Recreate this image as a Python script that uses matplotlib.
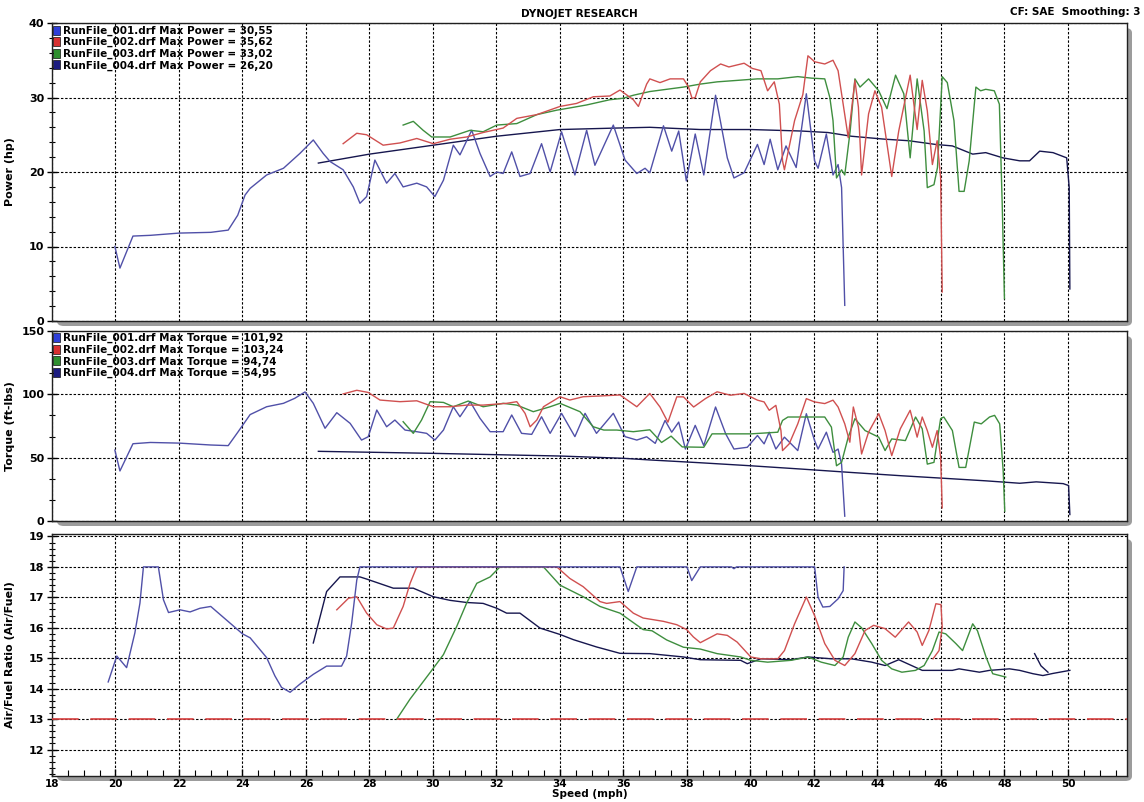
import matplotlib
matplotlib.use('Agg')
from matplotlib import pyplot as plt
from matplotlib.patches import Patch, FancyBboxPatch
from matplotlib.ticker import MultipleLocator
import numpy as np

# ---- data (speed mph -> value) ----
runs = ['RunFile_001.drf', 'RunFile_002.drf', 'RunFile_003.drf', 'RunFile_004.drf']
max_power = ['30,55', '35,62', '33,02', '26,20']
max_torque = ['101,92', '103,24', '94,74', '54,95']

pwr_001_x = [19.98, 20.14, 20.55, 21.1, 22.0, 23.0, 23.55, 23.85, 24.08, 24.24, 24.76, 25.29, 25.81, 26.23,
             26.54, 26.76, 27.17, 27.49, 27.70, 27.91, 28.17, 28.54, 28.80, 29.06, 29.49, 29.80, 30.06, 30.33,
             30.64, 30.85, 31.22, 31.48, 31.80, 32.01, 32.21, 32.48, 32.74, 33.06, 33.42, 33.69, 34.05, 34.47,
             34.84, 35.10, 35.68, 36.05, 36.42, 36.68, 36.83, 37.26, 37.52, 37.74, 37.98, 38.26, 38.53, 38.90,
             39.27, 39.48, 39.80, 40.22, 40.43, 40.62, 40.86, 41.12, 41.44, 41.76, 42.02, 42.13, 42.39, 42.60,
             42.76, 42.87, 42.97]
pwr_001_y = [10.0, 7.1, 11.4, 11.5, 11.8, 11.9, 12.2, 14.2, 16.9, 17.8, 19.6, 20.5, 22.5, 24.3,
             22.5, 21.4, 20.3, 18.0, 15.8, 16.7, 21.6, 18.5, 19.8, 18.0, 18.5, 18.0, 16.7, 18.9,
             23.6, 22.3, 25.6, 22.5, 19.4, 20.0, 19.8, 22.7, 19.4, 19.8, 23.8, 20.0, 25.4, 19.6,
             25.6, 20.9, 26.3, 21.6, 19.8, 20.5, 19.9, 26.2, 22.8, 25.5, 18.8, 25.1, 19.6, 30.3,
             21.9, 19.2, 19.9, 23.7, 21.0, 24.4, 20.3, 23.5, 20.6, 30.5, 21.5, 20.5, 25.1, 19.6,
             21.0, 17.9, 2.1]

pwr_002_x = [27.17, 27.60, 27.91, 28.43, 28.96, 29.49, 30.01, 30.54, 31.06, 31.58, 32.21, 32.64, 33.27, 34.0,
             34.52, 35.05, 35.57, 35.89, 36.31, 36.47, 36.73, 36.83, 37.15, 37.47, 37.89, 38.05, 38.16, 38.26,
             38.42, 38.74, 39.06, 39.32, 39.80, 40.06, 40.33, 40.54, 40.75, 40.91, 41.01, 41.07, 41.39, 41.65,
             41.81, 42.02, 42.34, 42.60, 42.76, 42.92, 43.08, 43.29, 43.40, 43.50, 43.72, 43.92, 44.13, 44.45,
             44.67, 45.03, 45.25, 45.41, 45.57, 45.73, 45.88, 45.99, 46.04]
pwr_002_y = [23.8, 25.2, 25.0, 23.6, 23.9, 24.5, 23.8, 24.4, 24.7, 25.3, 25.9, 27.2, 27.7, 28.8,
             29.2, 30.1, 30.2, 31.0, 29.7, 28.8, 31.8, 32.5, 32.0, 32.5, 32.5, 31.4, 29.9, 30.0,
             32.1, 33.6, 34.5, 34.1, 34.6, 33.9, 33.6, 30.9, 32.1, 29.1, 21.5, 20.3, 26.9, 30.4,
             35.6, 34.8, 34.5, 35.0, 33.6, 29.1, 24.6, 32.3, 28.7, 19.6, 27.8, 30.9, 28.7, 19.4,
             25.5, 33.0, 25.7, 32.3, 28.2, 21.0, 24.2, 19.2, 3.9]

pwr_003_x = [29.06, 29.38, 29.69, 29.96, 30.54, 31.17, 31.58, 32.01, 32.64, 33.27, 33.90, 34.31, 34.84, 35.57,
             35.99, 36.31, 36.83, 37.36, 37.89, 38.42, 38.95, 39.59, 40.22, 40.86, 41.49, 41.92, 42.34, 42.50,
             42.60, 42.71, 42.87, 42.97, 43.14, 43.29, 43.45, 43.72, 44.04, 44.30, 44.57, 44.83, 45.03, 45.25,
             45.47, 45.57, 45.78, 45.89, 46.04, 46.20, 46.41, 46.57, 46.73, 46.89, 47.10, 47.25, 47.41, 47.68,
             47.84, 47.93, 48.0]
pwr_003_y = [26.3, 26.8, 25.6, 24.7, 24.7, 25.6, 25.4, 26.3, 26.5, 27.7, 28.3, 28.6, 29.0, 29.7,
             29.9, 30.3, 30.8, 31.1, 31.4, 31.8, 32.1, 32.3, 32.5, 32.5, 32.8, 32.6, 32.5, 30.0,
             26.9, 19.2, 20.3, 19.6, 25.5, 32.5, 31.4, 32.5, 30.9, 28.5, 33.0, 30.5, 21.9, 32.5,
             25.5, 17.9, 18.3, 20.6, 32.8, 32.0, 26.9, 17.4, 17.4, 21.5, 31.4, 30.9, 31.1, 30.9,
             29.1, 15.6, 3.0]

pwr_004_x = [26.39, 28.0, 30.01, 32.0, 34.0, 35.79, 36.83, 38.42, 40.01, 41.6, 42.44, 43.18, 44.24, 44.98,
             45.83, 46.36, 47.0, 47.41, 47.95, 48.48, 48.79, 49.11, 49.53, 49.96, 50.04, 50.06]
pwr_004_y = [21.2, 22.4, 23.6, 24.8, 25.7, 25.9, 26.0, 25.7, 25.7, 25.5, 25.3, 24.8, 24.4, 24.2,
             23.7, 23.5, 22.4, 22.6, 21.9, 21.5, 21.5, 22.8, 22.6, 21.9, 17.9, 4.3]

trq_001_x = [19.98, 20.14, 20.55, 21.1, 22.0, 23.0, 23.55, 23.85, 24.24, 24.76, 25.29, 25.65, 25.97, 26.23,
             26.60, 26.97, 27.39, 27.75, 27.96, 28.23, 28.54, 28.80, 29.12, 29.49, 29.80, 30.06, 30.33, 30.64,
             30.85, 31.17, 31.48, 31.80, 32.21, 32.48, 32.79, 33.11, 33.42, 33.69, 34.05, 34.47, 34.79, 35.15,
             35.68, 36.05, 36.42, 36.73, 37.0, 37.31, 37.52, 37.74, 37.95, 38.26, 38.53, 38.90, 39.22, 39.48,
             39.90, 40.22, 40.43, 40.59, 40.80, 41.07, 41.49, 41.76, 42.02, 42.13, 42.39, 42.60, 42.76, 42.87,
             42.97]
trq_001_y = [56.0, 39.5, 61.0, 62.0, 61.5, 60.0, 59.5, 70.0, 84.0, 90.2, 92.9, 96.9, 101.9, 92.9,
             73.2, 85.5, 77.1, 63.9, 66.5, 87.6, 74.4, 79.7, 71.8, 70.5, 69.2, 63.9, 71.8, 90.2,
             82.3, 94.2, 81.1, 70.5, 70.5, 83.7, 69.2, 68.4, 82.3, 69.2, 85.0, 66.6, 85.0, 69.2,
             85.0, 66.6, 63.9, 66.5, 61.3, 79.4, 70.1, 78.1, 56.8, 75.5, 59.5, 90.0, 68.8, 56.8,
             58.2, 67.5, 60.9, 70.1, 56.8, 66.2, 55.6, 84.7, 63.5, 56.8, 70.1, 54.2, 56.8, 44.9,
             3.8]

trq_002_x = [27.17, 27.60, 27.96, 28.33, 28.96, 29.49, 30.01, 30.54, 31.06, 31.58, 32.32, 32.64, 32.90, 33.06,
             33.27, 33.48, 34.0, 34.31, 34.73, 35.26, 35.89, 36.42, 36.83, 37.15, 37.40, 37.68, 37.89, 38.21,
             38.58, 38.95, 39.37, 39.80, 40.01, 40.22, 40.43, 40.59, 40.80, 40.96, 41.01, 41.22, 41.49, 41.76,
             42.02, 42.34, 42.60, 42.76, 42.97, 43.13, 43.24, 43.40, 43.50, 43.72, 44.04, 44.24, 44.45, 44.72,
             45.03, 45.25, 45.41, 45.57, 45.73, 45.88, 45.99, 46.04]
trq_002_y = [100.3, 103.2, 101.5, 95.5, 94.2, 94.9, 90.2, 90.2, 91.5, 91.5, 92.9, 94.2, 85.0, 74.4,
             79.7, 90.2, 98.1, 95.5, 98.1, 98.7, 99.5, 90.2, 100.7, 90.0, 78.0, 98.0, 98.0, 90.0,
             96.6, 102.0, 99.3, 100.7, 98.0, 95.4, 94.0, 87.4, 91.3, 71.4, 55.6, 60.9, 76.7, 96.6,
             94.0, 92.7, 95.4, 90.0, 76.7, 62.2, 90.0, 74.1, 52.9, 70.1, 84.7, 71.4, 51.6, 72.8,
             87.4, 66.2, 82.1, 71.4, 58.2, 71.4, 50.2, 10.4]

trq_003_x = [29.06, 29.38, 29.64, 29.91, 30.33, 30.64, 31.11, 31.58, 32.21, 32.64, 33.16, 33.69, 34.0, 34.63,
             35.05, 35.38, 35.79, 36.31, 36.83, 37.20, 37.50, 37.85, 38.53, 38.79, 39.27, 40.01, 40.86, 41.01,
             41.18, 41.92, 42.34, 42.55, 42.71, 42.87, 43.08, 43.29, 43.61, 44.04, 44.24, 44.45, 44.88, 45.20,
             45.41, 45.57, 45.78, 45.99, 46.09, 46.36, 46.57, 46.78, 47.05, 47.27, 47.53, 47.69, 47.85, 47.96,
             48.01]
trq_003_y = [78.4, 69.2, 79.7, 94.2, 93.6, 90.2, 94.7, 90.2, 92.9, 91.5, 86.3, 90.2, 92.9, 86.3,
             74.4, 71.8, 71.8, 70.5, 72.0, 62.0, 67.0, 58.5, 58.2, 68.8, 68.8, 68.8, 70.1, 79.4,
             82.1, 82.1, 82.1, 74.1, 43.6, 46.3, 66.2, 80.8, 71.4, 66.2, 55.6, 64.8, 63.5, 82.1,
             72.8, 44.9, 46.3, 80.8, 82.1, 71.4, 42.3, 42.3, 78.1, 76.7, 82.1, 83.4, 76.7, 39.6,
             7.8]

trq_004_x = [26.39, 30.01, 34.0, 35.99, 36.83, 38.41, 40.01, 41.60, 43.18, 44.77, 46.04, 47.42, 48.48, 49.0,
             49.85, 50.02, 50.06]
trq_004_y = [55.0, 53.4, 51.3, 49.5, 48.2, 46.0, 43.6, 41.0, 38.3, 35.7, 33.8, 31.7, 29.8, 30.9,
             29.5, 28.0, 5.1]

afr_001_x = [19.77, 20.04, 20.14, 20.35, 20.61, 20.77, 20.88, 21.35, 21.51, 21.67, 22.03, 22.35, 22.66, 23.0,
             23.5, 24.0, 24.24, 24.76, 25.02, 25.23, 25.50, 25.81, 26.23, 26.65, 27.12, 27.28, 27.44, 27.60,
             27.70, 35.89, 36.15, 36.42, 38.0, 38.15, 38.42, 39.40, 39.48, 39.56, 42.02, 42.13, 42.28, 42.50,
             42.76, 42.92, 42.95]
afr_001_y = [14.22, 15.07, 14.95, 14.69, 15.83, 16.81, 18.0, 18.0, 16.92, 16.5, 16.59, 16.52, 16.64, 16.7,
             16.25, 15.8, 15.67, 15.02, 14.42, 14.04, 13.88, 14.15, 14.47, 14.74, 14.74, 15.07, 16.16, 17.57,
             18.0, 18.0, 17.19, 18.0, 18.0, 17.55, 18.0, 18.0, 17.94, 18.0, 18.0, 17.0, 16.68, 16.7,
             16.95, 17.22, 18.0]

afr_002_x = [26.97, 27.34, 27.60, 27.91, 28.23, 28.54, 28.75, 29.06, 29.28, 29.49, 33.90, 34.31, 34.73, 35.26,
             35.47, 35.89, 36.31, 36.62, 37.26, 37.68, 37.99, 38.20, 38.42, 38.95, 39.27, 39.58, 40.01, 40.33,
             40.86, 41.07, 41.39, 41.76, 42.02, 42.34, 42.66, 42.97, 43.29, 43.61, 43.88, 44.24, 44.56, 44.98,
             45.25, 45.41, 45.62, 45.84, 46.0, 46.04, 45.94, 45.75]
afr_002_y = [16.59, 16.97, 17.02, 16.48, 16.10, 15.96, 15.99, 16.70, 17.46, 18.0, 18.0, 17.62, 17.35, 16.86,
             16.8, 16.86, 16.48, 16.32, 16.21, 16.10, 15.94, 15.7, 15.51, 15.8, 15.75, 15.53, 15.04, 14.98,
             14.98, 15.25, 16.13, 17.01, 16.40, 15.48, 14.93, 14.76, 15.15, 15.91, 16.08, 15.97, 15.69, 16.19,
             15.86, 15.42, 15.91, 16.79, 16.76, 16.02, 15.25, 14.98]

afr_003_x = [28.86, 29.28, 29.91, 30.33, 30.75, 31.06, 31.38, 31.80, 32.11, 33.48, 34.0, 34.73, 35.26, 35.89,
             36.62, 36.9, 37.36, 37.89, 38.42, 38.95, 39.69, 40.01, 40.54, 41.28, 41.81, 42.23, 42.66, 42.92,
             43.08, 43.29, 43.5, 43.82, 44.13, 44.45, 44.77, 45.20, 45.47, 45.73, 45.94, 46.15, 46.47, 46.68,
             47.0, 47.15, 47.42, 47.63, 48.04]
afr_003_y = [13.0, 13.66, 14.53, 15.12, 16.05, 16.81, 17.46, 17.67, 18.0, 18.0, 17.40, 17.02, 16.70, 16.48,
             15.94, 15.9, 15.6, 15.36, 15.3, 15.15, 15.04, 14.93, 14.87, 14.93, 15.04, 14.87, 14.76, 15.04,
             15.69, 16.19, 16.0, 15.48, 14.93, 14.65, 14.54, 14.6, 14.76, 15.25, 15.86, 15.8, 15.48, 15.25,
             16.13, 15.9, 15.04, 14.49, 14.38]

afr_004_x = [26.23, 26.65, 27.07, 27.70, 27.91, 28.75, 29.38, 30.01, 30.54, 31.06, 31.58, 32.01, 32.32, 32.74,
             33.37, 34.0, 34.42, 35.15, 35.89, 36.83, 37.89, 38.42, 39.69, 39.90, 40.33, 41.28, 41.81, 42.55,
             43.18, 43.82, 44.24, 44.67, 45.41, 46.36, 46.57, 47.21, 47.53, 48.16, 48.48, 48.90, 49.21, 49.53,
             50.06]
afr_004_y = [15.5, 17.19, 17.67, 17.67, 17.6, 17.3, 17.3, 17.02, 16.9, 16.83, 16.8, 16.64, 16.48, 16.48,
             15.99, 15.78, 15.61, 15.37, 15.16, 15.15, 15.04, 14.95, 14.93, 14.82, 14.98, 14.95, 15.04, 14.98,
             14.98, 14.87, 14.76, 14.95, 14.6, 14.6, 14.65, 14.54, 14.6, 14.65, 14.6, 14.49, 14.43, 14.5,
             14.6]
afr_004b_x = [48.95, 49.15, 49.37]
afr_004b_y = [15.15, 14.75, 14.54]

afr_target = 13.0

line_colors = ['#5050a8', '#d05050', '#3e8e3e', '#16164e']
box_colors = ['#2f3fd8', '#d83030', '#2f8f2f', '#1c1c80']

plt.rcParams['font.family'] = ['DejaVu Sans']
W, H = 1144, 802
fig = plt.figure(figsize=(W / 100, H / 100), dpi=100, facecolor='white')


def frac(x0, top, x1, bot):
    return [x0 / W, 1 - bot / H, (x1 - x0) / W, (bot - top) / H]


panels = [frac(52, 23, 1127, 321), frac(52, 331, 1127, 521), frac(52, 534, 1127, 776)]
axs = []
for rect in panels:
    # grey drop shadow behind each panel
    sh = FancyBboxPatch((rect[0] + 5 / W, rect[1] - 5 / H), rect[2], rect[3],
                        boxstyle='round,pad=0,rounding_size=0.006', transform=fig.transFigure,
                        facecolor='#9c9c9c', edgecolor='none', zorder=0)
    fig.patches.append(sh)
    ax = fig.add_axes(rect, zorder=2)
    axs.append(ax)

grid_kw = dict(color='black', linestyle=(0, (2.2, 1.6)), linewidth=0.8)

for ax in axs:
    ax.set_xlim(18, 51.86)
    ax.xaxis.set_major_locator(MultipleLocator(2))
    ax.xaxis.set_minor_locator(MultipleLocator(0.5))
    ax.grid(True, which='major', **grid_kw)
    ax.set_axisbelow(True)
    for s in ax.spines.values():
        s.set_linewidth(1.0)
        s.set_color('#202020')
    ax.tick_params(axis='y', which='major', direction='inout', length=7, width=1,
                   labelsize=8, pad=2, right=False)
    ax.tick_params(axis='y', which='minor', direction='inout', length=4, width=0.8, right=False)

ax1, ax2, ax3 = axs

# ---- Power ----
ax1.plot(pwr_004_x, pwr_004_y, color=line_colors[3], lw=1.0)
ax1.plot(pwr_001_x, pwr_001_y, color=line_colors[0], lw=1.0)
ax1.plot(pwr_003_x, pwr_003_y, color=line_colors[2], lw=1.0)
ax1.plot(pwr_002_x, pwr_002_y, color=line_colors[1], lw=1.0)
ax1.set_ylim(0, 40)
ax1.yaxis.set_major_locator(MultipleLocator(10))
ax1.yaxis.set_minor_locator(MultipleLocator(2))

# ---- Torque ----
ax2.plot(trq_004_x, trq_004_y, color=line_colors[3], lw=1.0)
ax2.plot(trq_001_x, trq_001_y, color=line_colors[0], lw=1.0)
ax2.plot(trq_003_x, trq_003_y, color=line_colors[2], lw=1.0)
ax2.plot(trq_002_x, trq_002_y, color=line_colors[1], lw=1.0)
ax2.set_ylim(0, 150)
ax2.yaxis.set_major_locator(MultipleLocator(50))
ax2.yaxis.set_minor_locator(MultipleLocator(50 / 3))

# ---- Air / fuel ----
ax3.axhline(afr_target, color='#d84040', lw=1.2, dashes=(16, 7), zorder=3)
ax3.plot(afr_004_x, afr_004_y, color=line_colors[3], lw=1.0)
ax3.plot(afr_004b_x, afr_004b_y, color=line_colors[3], lw=1.0)
ax3.plot(afr_003_x, afr_003_y, color=line_colors[2], lw=1.0)
ax3.plot(afr_002_x, afr_002_y, color=line_colors[1], lw=1.0)
ax3.plot(afr_001_x, afr_001_y, color=line_colors[0], lw=1.0)
ax3.set_ylim(11.13, 19.08)
ax3.yaxis.set_major_locator(MultipleLocator(1))
ax3.yaxis.set_minor_locator(MultipleLocator(0.2))

for ax in (ax1, ax2):
    ax.tick_params(axis='x', which='both', bottom=False, labelbottom=False)
ax3.tick_params(axis='x', which='major', direction='in', length=5, width=1, labelsize=7.5, pad=2)
ax3.tick_params(axis='x', which='minor', direction='in', length=4, width=0.8)
ax3.set_xticks(np.arange(18, 51, 2))
for lab in ax3.get_xticklabels():
    lab.set_fontweight('bold')
for ax in axs:
    for lab in ax.get_yticklabels():
        lab.set_fontweight('bold')

ax1.set_ylabel('Power (hp)', fontsize=8, fontweight='bold')
ax2.set_ylabel('Torque (ft-lbs)', fontsize=8, fontweight='bold')
ax3.set_ylabel('Air/Fuel Ratio (Air/Fuel)', fontsize=8, fontweight='bold')
for ax in axs:
    ax.yaxis.set_label_coords(-0.034, 0.5)
ax3.set_xlabel('Speed (mph)', fontsize=7.5, fontweight='bold')
ax3.xaxis.set_label_coords(0.5, -0.052)

# legends
pw_labels = [r + ' Max Power = ' + v for r, v in zip(runs, max_power)]
tq_labels = [r + ' Max Torque = ' + v for r, v in zip(runs, max_torque)]
handles = [Patch(facecolor=c, edgecolor='#101010', linewidth=0.5) for c in box_colors]
for ax, labels in ((ax1, pw_labels), (ax2, tq_labels)):
    ax.legend(handles, labels, loc='upper left', bbox_to_anchor=(0.0, 0.995), frameon=False,
              borderaxespad=0, borderpad=0.1, handlelength=0.7, handleheight=0.95,
              handletextpad=0.25, labelspacing=0.12, prop={'weight': 'bold', 'size': 7.5})

fig.text(579 / W, 1 - 14 / H, 'DYNOJET RESEARCH', ha='center', va='center',
         fontsize=7.5, fontweight='bold')
fig.text(1141 / W, 1 - 12 / H, 'CF: SAE  Smoothing: 3', ha='right', va='center',
         fontsize=7.5, fontweight='bold')

fig.savefig('out.png', dpi=100, facecolor='white')
